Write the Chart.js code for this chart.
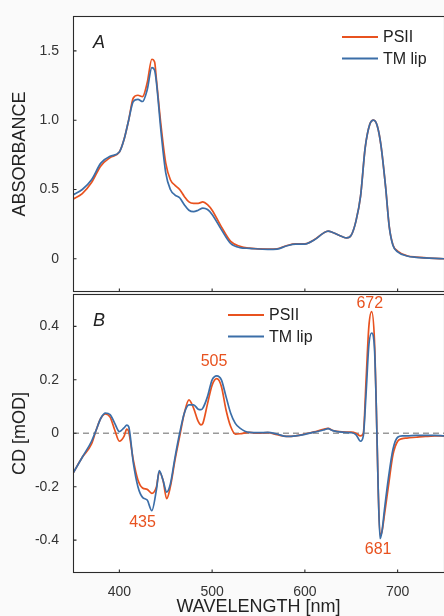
<!DOCTYPE html>
<html>
<head>
<meta charset="utf-8">
<script src="https://cdn.jsdelivr.net/npm/chart.js@4.4.1/dist/chart.umd.min.js"></script>
<style>
  html, body { margin: 0; padding: 0; background: #fafafa; }
  #wrap { position: relative; width: 444px; height: 616px; overflow: hidden; }
  canvas { position: absolute; left: 0; }
  #chartA { top: 0; z-index: 2; }
  #chartB { top: 293px; z-index: 1; }
</style>
</head>
<body>
<div id="wrap">
  <canvas id="chartA" width="444" height="294"></canvas>
  <canvas id="chartB" width="444" height="323"></canvas>
</div>
<script>
// series labels
var seriesNames = ['PSII', 'TM lip'];

// panel A - absorbance
var absWl = [350,360,370,380,390,400,405,410,415,420,425,430,435,438,440,445,450,455,460,465,470,475,480,485,490,495,500,510,520,530,540,560,570,580,590,600,610,620,625,630,640,645,650,655,660,665,670,674,678,682,687,691,695,700,710,720,750];
var absPSII = [0.43,0.47,0.55,0.67,0.73,0.77,0.86,1.0,1.16,1.18,1.17,1.27,1.44,1.42,1.29,0.955,0.69,0.57,0.53,0.50,0.45,0.41,0.40,0.40,0.41,0.39,0.35,0.23,0.125,0.09,0.077,0.07,0.072,0.094,0.108,0.108,0.137,0.185,0.2,0.19,0.16,0.15,0.17,0.27,0.45,0.80,0.97,1.0,0.96,0.82,0.52,0.23,0.10,0.055,0.022,0.012,0.0];
var absTM = [0.46,0.50,0.57,0.69,0.74,0.77,0.86,1.0,1.135,1.15,1.135,1.22,1.38,1.36,1.27,0.91,0.62,0.50,0.46,0.44,0.39,0.35,0.34,0.35,0.365,0.355,0.32,0.21,0.11,0.08,0.075,0.068,0.07,0.092,0.106,0.106,0.135,0.185,0.2,0.19,0.16,0.15,0.17,0.27,0.45,0.80,0.97,1.0,0.96,0.82,0.52,0.23,0.095,0.05,0.02,0.01,0.0];

// panel B - CD
var cdWl = [350,360,370,375,380,385,390,395,400,405,408,410,415,420,425,430,435,440,443,447,451,455,460,465,470,475,480,485,488,490,495,500,505,510,515,520,525,530,540,550,560,570,580,590,600,610,620,625,630,640,650,655,660,663,666,669,672,675,677,679,681,683,686,690,695,700,705,710,720,730,740,750];
var cdPSII = [-0.15,-0.09,-0.04,0.012,0.056,0.072,0.06,0.012,-0.03,-0.012,0.015,0.006,-0.10,-0.175,-0.205,-0.21,-0.225,-0.20,-0.145,-0.175,-0.245,-0.2,-0.1,-0.012,0.075,0.125,0.094,0.044,0.031,0.037,0.11,0.18,0.204,0.175,0.087,0.025,-0.003,-0.002,0.003,0.0,0.002,-0.005,-0.012,-0.01,-0.003,0.005,0.015,0.018,0.01,0.005,0.004,0.0,-0.01,0.0,0.2,0.4,0.455,0.35,0.1,-0.2,-0.38,-0.37,-0.3,-0.2,-0.08,-0.03,-0.02,-0.018,-0.015,-0.012,-0.01,-0.01];
var cdTM = [-0.15,-0.09,-0.03,0.012,0.056,0.075,0.07,0.037,0.006,0.02,0.03,0.025,-0.11,-0.2,-0.24,-0.25,-0.29,-0.21,-0.14,-0.175,-0.22,-0.19,-0.09,0.0,0.075,0.106,0.106,0.09,0.088,0.094,0.137,0.2,0.215,0.2,0.137,0.075,0.037,0.019,0.003,0.002,0.003,-0.003,-0.012,-0.01,-0.004,0.004,0.012,0.017,0.01,0.004,0.002,-0.005,-0.03,-0.01,0.15,0.33,0.375,0.32,0.1,-0.2,-0.394,-0.37,-0.28,-0.17,-0.06,-0.015,-0.01,-0.01,-0.008,-0.008,-0.008,-0.01];

// ticks
var wlTicks = [400, 500, 600, 700];
var absTicks = [0, 0.5, 1.0, 1.5];
var absTickLabels = ['0', '0.5', '1.0', '1.5'];
var cdTicks = [-0.4, -0.2, 0, 0.2, 0.4];
var cdTickLabels = ['-0.4', '-0.2', '0', '0.2', '0.4'];

// peak annotations in panel B (label, wavelength, value)
var peakLabels = ['435', '505', '672', '681'];
var peakWl = [425, 502, 670, 679];
var peakVal = [-0.333, 0.268, 0.486, -0.434];

var ORANGE = '#e8521f';
var BLUE = '#3b6ea8';
var FONT = '"Liberation Sans", Arial, sans-serif';
var colors = [ORANGE, BLUE];

function pts(xs, ys) {
    return xs.map(function (x, i) { return { x: x, y: ys[i] }; });
}

function makeDatasets(xs, a, b) {
    return [a, b].map(function (vals, i) {
        return {
            label: seriesNames[i],
            data: pts(xs, vals),
            borderColor: colors[i],
            borderWidth: 1.7,
            pointRadius: 0,
            cubicInterpolationMode: 'monotone',
            order: 1 - i
        };
    });
}

// white plot area + frame + inward ticks + panel letter + legend
var decor = {
    id: 'decor',
    beforeDraw: function (chart) {
        var c = chart.ctx, ca = chart.chartArea;
        c.save();
        c.fillStyle = '#ffffff';
        c.fillRect(ca.left, ca.top, ca.right - ca.left, ca.bottom - ca.top);
        c.restore();
    },
    beforeDatasetsDraw: function (chart, args, o) {
        if (!o.zeroLine) return;
        var c = chart.ctx, ca = chart.chartArea;
        var y0 = chart.scales.y.getPixelForValue(0);
        c.save();
        c.strokeStyle = '#9a9a9a';
        c.lineWidth = 1.3;
        c.setLineDash([6, 4]);
        c.beginPath();
        c.moveTo(ca.left, y0);
        c.lineTo(ca.right, y0);
        c.stroke();
        c.restore();
    },
    afterDraw: function (chart, args, o) {
        var c = chart.ctx, ca = chart.chartArea;
        c.save();
        c.strokeStyle = '#2b2b2b';
        c.lineWidth = 1.1;
        c.strokeRect(ca.left + 0.5, ca.top + 0.5, ca.right - ca.left, ca.bottom - ca.top - 1);
        // inward ticks
        c.beginPath();
        o.yTicks.forEach(function (v) {
            var y = chart.scales.y.getPixelForValue(v);
            c.moveTo(ca.left, y);
            c.lineTo(ca.left + 3.5, y);
        });
        wlTicks.forEach(function (v) {
            var x = chart.scales.x.getPixelForValue(v);
            c.moveTo(x, ca.bottom);
            c.lineTo(x, ca.bottom - 3.5);
        });
        c.stroke();

        // panel letter
        c.fillStyle = '#222';
        c.font = 'italic 18px ' + FONT;
        c.textBaseline = 'middle';
        c.textAlign = 'left';
        c.fillText(o.letter, ca.left + 20, ca.top + 27);

        // legend
        c.font = '16px ' + FONT;
        chart.data.datasets.forEach(function (ds, i) {
            var y = ca.top + o.legY + i * 21.5;
            c.strokeStyle = ds.borderColor;
            c.lineWidth = 1.8;
            c.beginPath();
            c.moveTo(ca.left + o.legX, y);
            c.lineTo(ca.left + o.legX + 36, y);
            c.stroke();
            c.fillStyle = '#222';
            c.fillText(ds.label, ca.left + o.legX + 41, y + 1);
        });

        // peak labels
        if (o.peaks) {
            c.fillStyle = ORANGE;
            c.textAlign = 'center';
            peakLabels.forEach(function (t, i) {
                c.fillText(t, chart.scales.x.getPixelForValue(peakWl[i]),
                    chart.scales.y.getPixelForValue(peakVal[i]));
            });
        }
        c.restore();
    }
};

function tickSetter(vals) {
    return function (scale) {
        scale.ticks = vals.map(function (v) { return { value: v }; });
    };
}

function labelFrom(vals, labels) {
    return function (v) {
        var i = vals.findIndex(function (t) { return Math.abs(t - v) < 1e-9; });
        return i >= 0 ? labels[i] : '';
    };
}

// fixed axis sizes, no automatic label padding
function fixY(s) {
    s.width = 73;
    s.paddingTop = 0;
    s.paddingBottom = 0;
}
function fixX(s) {
    s.height = 43;
    s.paddingLeft = 0;
    s.paddingRight = 0;
}

new Chart(document.getElementById('chartA'), {
    type: 'line',
    data: { datasets: makeDatasets(absWl, absPSII, absTM) },
    plugins: [decor],
    options: {
        responsive: false,
        animation: false,
        layout: { autoPadding: false, padding: { top: 16, bottom: 2, left: 0, right: 0 } },
        plugins: {
            legend: { display: false },
            tooltip: { enabled: false },
            decor: { letter: 'A', legX: 269, legY: 21, yTicks: absTicks }
        },
        scales: {
            x: {
                type: 'linear', min: 350, max: 750, display: false,
                afterBuildTicks: tickSetter(wlTicks)
            },
            y: {
                type: 'linear', min: -0.24, max: 1.752,
                afterBuildTicks: tickSetter(absTicks),
                afterFit: fixY,
                grid: { display: false },
                border: { display: false },
                ticks: {
                    padding: 6, color: '#333',
                    font: { family: FONT, size: 14 },
                    callback: labelFrom(absTicks, absTickLabels)
                },
                title: {
                    display: true, text: 'ABSORBANCE', color: '#222',
                    font: { family: FONT, size: 18, lineHeight: 1 },
                    padding: { top: 11, bottom: 0 }
                }
            }
        }
    }
});

new Chart(document.getElementById('chartB'), {
    type: 'line',
    data: { datasets: makeDatasets(cdWl, cdPSII, cdTM) },
    plugins: [decor],
    options: {
        responsive: false,
        animation: false,
        layout: { autoPadding: false, padding: { top: 1, bottom: 0, left: 0, right: 0 } },
        plugins: {
            legend: { display: false },
            tooltip: { enabled: false },
            decor: { letter: 'B', legX: 155, legY: 21, yTicks: cdTicks, zeroLine: true, peaks: true }
        },
        scales: {
            x: {
                type: 'linear', min: 350, max: 750,
                afterBuildTicks: tickSetter(wlTicks),
                afterFit: fixX,
                grid: { display: false },
                border: { display: false },
                ticks: {
                    padding: 3, color: '#333', maxRotation: 0,
                    font: { family: FONT, size: 14 },
                    callback: function (v) { return String(v); }
                },
                title: {
                    display: true, text: 'WAVELENGTH [nm]', color: '#222',
                    font: { family: FONT, size: 18, lineHeight: 1 },
                    padding: 0
                }
            },
            y: {
                type: 'linear', min: -0.523, max: 0.521,
                afterBuildTicks: tickSetter(cdTicks),
                afterFit: fixY,
                grid: { display: false },
                border: { display: false },
                ticks: {
                    padding: 6, color: '#333',
                    font: { family: FONT, size: 14 },
                    callback: labelFrom(cdTicks, cdTickLabels)
                },
                title: {
                    display: true, text: 'CD [mOD]', color: '#222',
                    font: { family: FONT, size: 18, lineHeight: 1 },
                    padding: { top: 11, bottom: 0 }
                }
            }
        }
    }
});
</script>
</body>
</html>
